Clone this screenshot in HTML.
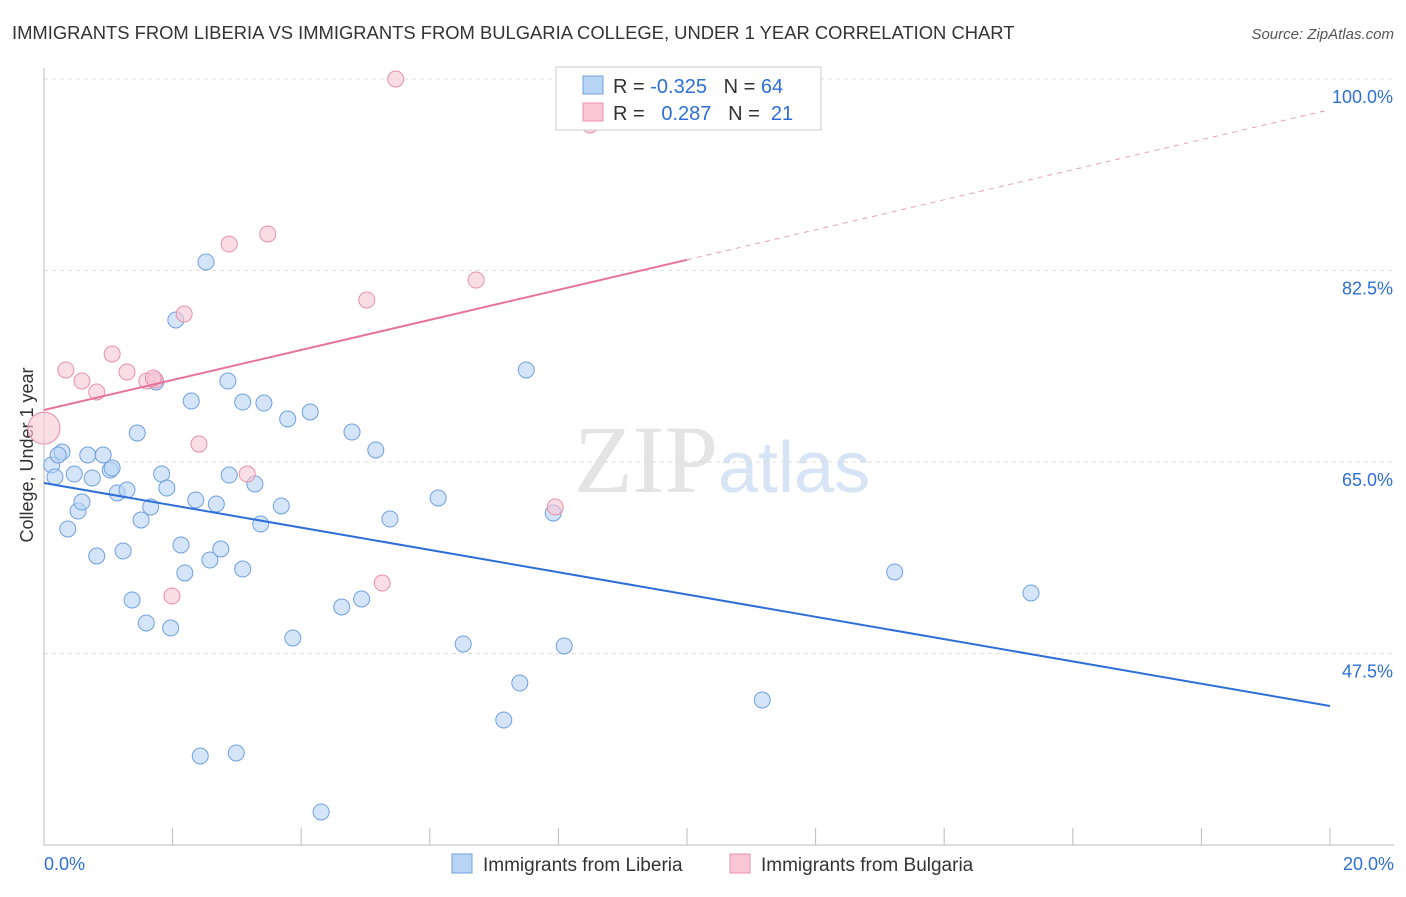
<!DOCTYPE html>
<html><head><meta charset="utf-8"><style>
body{margin:0;background:#fff;font-family:"Liberation Sans",sans-serif}
</style></head><body>
<svg id="c" width="1406" height="892" xmlns="http://www.w3.org/2000/svg" style="font-family:'Liberation Sans',sans-serif">
<text x="12" y="39" font-size="18.4" fill="#333">IMMIGRANTS FROM LIBERIA VS IMMIGRANTS FROM BULGARIA COLLEGE, UNDER 1 YEAR CORRELATION CHART</text>
<text x="1394" y="39" font-size="15" fill="#555" font-style="italic" text-anchor="end">Source: ZipAtlas.com</text>
<text x="718" y="492" font-size="96" fill="#e4e4e4" text-anchor="end" font-family="Liberation Serif">ZIP</text>
<text x="718" y="492" font-size="72" fill="#d6e4f5">atlas</text>
<text transform="translate(33,455) rotate(-90)" font-size="18" fill="#333" text-anchor="middle">College, Under 1 year</text>
<g id="grid"></g><g id="pts"></g><g id="lines"></g>
<g>
<rect x="556" y="67" width="265" height="63" fill="#fff" stroke="#ccc"/>
<rect x="583" y="76" width="20" height="18" fill="#b8d4f5" stroke="#6fa0e0"/>
<rect x="583" y="103" width="20" height="18" fill="#f9c6d5" stroke="#e890aa"/>
<text x="613" y="93" font-size="20" fill="#333" xml:space="preserve">R = <tspan fill="#2d6fd6">-0.325</tspan>   N = <tspan fill="#2d6fd6">64</tspan></text>
<text x="613" y="120" font-size="20" fill="#333" xml:space="preserve">R =  <tspan fill="#2d6fd6"> 0.287</tspan>   N =  <tspan fill="#2d6fd6">21</tspan></text>
</g>
<g>
<rect x="452" y="854" width="20" height="19" fill="#b8d4f5" stroke="#6fa0e0"/>
<text x="483" y="871" font-size="19" fill="#333">Immigrants from Liberia</text>
<rect x="730" y="854" width="20" height="19" fill="#f9c6d5" stroke="#e890aa"/>
<text x="761" y="871" font-size="19" fill="#333">Immigrants from Bulgaria</text>
</g>
<text x="44" y="870" font-size="18" fill="#2d6fd6">0.0%</text>
<text x="1394" y="870" font-size="18" fill="#2d6fd6" text-anchor="end">20.0%</text>
</svg>
<script>
const yTicks=[100,82.5,65,47.5];
const blueX=[0.12,0.17,0.28,0.22,0.37,0.47,0.53,0.59,0.68,0.75,0.82,0.92,1.03,1.06,1.14,1.23,1.29,1.37,1.45,1.51,1.59,1.66,1.74,1.83,1.91,1.97,2.05,2.13,2.19,2.29,2.36,2.43,2.52,2.58,2.68,2.75,2.86,2.88,2.99,3.09,3.09,3.28,3.37,3.42,3.69,3.79,3.87,4.14,4.31,4.63,4.79,4.94,5.16,5.38,6.13,6.52,7.15,7.40,7.50,7.92,8.09,11.17,13.23,15.35];
const blueY=[64.73,63.63,65.91,65.64,58.88,63.90,60.52,61.34,65.64,63.54,56.41,65.64,64.27,64.45,62.17,56.87,62.44,52.39,67.65,59.70,50.29,60.89,72.31,63.90,62.62,49.83,77.98,57.42,54.86,70.57,61.53,38.13,83.28,56.04,61.16,57.05,72.40,63.81,38.41,55.22,70.48,62.99,59.33,70.39,60.98,68.93,48.92,69.57,33.02,51.75,67.74,52.48,66.10,59.79,61.71,48.37,41.42,44.80,73.41,60.34,48.19,43.25,54.95,53.03];
const pinkX=[0,0.34,0.59,0.82,1.06,1.29,1.60,1.73,1.99,2.18,2.41,2.88,3.16,3.48,5.02,5.26,5.47,6.72,7.95,8.49,1.70];
const pinkY=[68.1,73.41,72.40,71.40,74.87,73.22,72.40,72.49,52.75,78.52,66.64,84.92,63.90,85.84,79.80,53.94,100.0,81.63,60.89,95.80,72.68];
const blueTrend=[63.08,42.7];
const pinkTrend=[69.75,97.2];
const X=v=>44+v*64.3, Y=v=>462-(v-65)*191.5/17.5;
const NS="http://www.w3.org/2000/svg";
function mk(t,a,p){const e=document.createElementNS(NS,t);for(const k in a)e.setAttribute(k,a[k]);p.appendChild(e);return e;}
const g=document.getElementById('grid');
yTicks.forEach(t=>{const l=mk('line',{x1:44,x2:1394,y1:Y(t),y2:Y(t),stroke:'#ddd','stroke-dasharray':'4,4'},g);


const tx=mk('text',{x:1393,y:Y(t)+24,'font-size':18,fill:'#2d6fd6','text-anchor':'end'},g);tx.textContent=t.toFixed(1)+'%';

});
mk('line',{x1:44,x2:44,y1:68,y2:845,stroke:'#bbb'},g);
mk('line',{x1:44,x2:1394,y1:845,y2:845,stroke:'#bbb'},g);
for(let i=0;i<=10;i++){mk('line',{x1:X(i*2),x2:X(i*2),y1:828,y2:845,stroke:'#bbb'},g);}
const p=document.getElementById('pts');
blueX.forEach((x,i)=>{const c=mk('circle',{cx:X(x),cy:Y(blueY[i]),r:8,fill:'#b8d4f5','fill-opacity':0.6,stroke:'#6fa0e0'},p);

});
pinkX.forEach((x,i)=>{const c=mk('circle',{cx:X(x),cy:Y(pinkY[i]),r:i==0?16:8,fill:'#f9c6d5','fill-opacity':0.6,stroke:'#e890aa'},p);

});
const L=document.getElementById('lines');
const pm=v=>pinkTrend[0]+(pinkTrend[1]-pinkTrend[0])*v/20;
let l1=mk('line',{x1:X(0),y1:Y(blueTrend[0]),x2:X(20),y2:Y(blueTrend[1]),stroke:'#2d6fd6','stroke-width':2},L);


let l2=mk('line',{x1:X(0),y1:Y(pm(0)),x2:X(10),y2:Y(pm(10)),stroke:'#e8739a','stroke-width':2},L);


let l3=mk('line',{x1:X(10),y1:Y(pm(10)),x2:X(20),y2:Y(pm(20)),stroke:'#e8a0b8','stroke-width':1,'stroke-dasharray':'5,5'},L);


</script>
</body></html>
